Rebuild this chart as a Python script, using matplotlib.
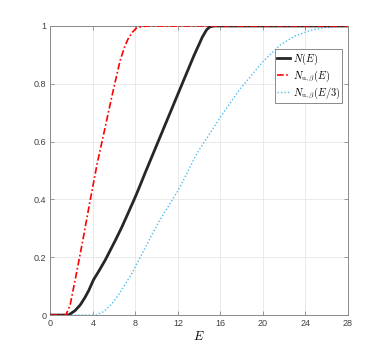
import matplotlib
matplotlib.use("Agg")
import matplotlib.pyplot as plt

plt.rcParams['mathtext.fontset'] = 'cm'
plt.rcParams['font.family'] = ['Liberation Sans', 'DejaVu Sans']

# N(E)
black_E = [0, 1.7, 2.3, 2.8, 3.25, 3.6, 4.05, 4.6, 5.15, 6.1, 6.7, 7.3, 8.0, 8.45, 8.9, 9.4, 12.0, 13.5, 14.3, 14.7, 15.0, 15.4, 28]
black_N = [0, 0, 0.015, 0.035, 0.061, 0.085, 0.122, 0.155, 0.19, 0.258, 0.303, 0.352, 0.41, 0.45, 0.491, 0.535, 0.765, 0.897, 0.962, 0.987, 0.997, 1.0, 1.0]

# N_{u,beta}(E)
red_E = [0, 1.45, 1.85, 2.5, 3.1, 3.7, 4.4, 5.0, 5.8, 6.55, 7.0, 7.3, 7.7, 8.1, 8.6, 9.2, 28]
red_N = [0, 0, 0.035, 0.155, 0.27, 0.39, 0.525, 0.625, 0.76, 0.88, 0.93, 0.955, 0.978, 0.993, 0.998, 1.0, 1.0]

# N_{u,beta}(E/3)
blue_E = [0, 4.3, 5.0, 5.8, 6.5, 7.6, 8.6, 9.5, 10.4, 12.0, 13.8, 16.0, 17.8, 20.0, 21.6, 23.0, 24.5, 26.0, 28]
blue_N = [0, 0, 0.012, 0.04, 0.075, 0.14, 0.21, 0.275, 0.335, 0.43, 0.56, 0.685, 0.78, 0.877, 0.934, 0.965, 0.985, 0.996, 1.0]

xticks = [0, 4, 8, 12, 16, 20, 24, 28]
yticks = [0, 0.2, 0.4, 0.6, 0.8, 1]
ytick_labels = ['0', '0.2', '0.4', '0.6', '0.8', '1']

fig = plt.figure(figsize=(3.84, 3.54), dpi=100)
ax = fig.add_axes([0.1315, 0.110, 0.7745, 0.8166])

ax.plot(black_E, black_N, color='#262626', lw=2.0, ls='-', label=r'$N(E)$', zorder=3)
ax.plot(red_E, red_N, color='#ff0000', lw=1.2, ls=(0, (4, 1.5, 1, 1.5)), label=r'$N_{\mathrm{u},\beta}(E)$', zorder=4)
ax.plot(blue_E, blue_N, color='#4DBEEE', lw=1.0, ls=(0, (1, 1.5)), label=r'$N_{\mathrm{u},\beta}(E/3)$', zorder=2)

ax.set_xlim(0, 28)
ax.set_ylim(0, 1)
ax.set_xticks(xticks)
ax.set_xticklabels([str(t) for t in xticks])
ax.set_yticks(yticks)
ax.set_yticklabels(ytick_labels)
ax.grid(True, color='#e6e6e6', lw=0.6)
ax.set_axisbelow(True)
ax.tick_params(direction='in', length=3, width=0.6, colors='#8a8a8a', labelcolor='#404040',
               labelsize=6.5, top=True, right=True, pad=3)
for s in ax.spines.values():
    s.set_color('#8a8a8a')
    s.set_linewidth(0.7)

ax.set_xlabel(r'$E$', fontsize=9, labelpad=1)

leg = ax.legend(loc='upper right', bbox_to_anchor=(0.981, 0.919), borderaxespad=0,
                fontsize=7.5, handlelength=1.3, handletextpad=0.2, labelspacing=0.15,
                borderpad=0.2, fancybox=False, framealpha=1)
leg.get_frame().set_edgecolor('#8a8a8a')
leg.get_frame().set_linewidth(0.7)

fig.savefig('out.png', dpi=100)
